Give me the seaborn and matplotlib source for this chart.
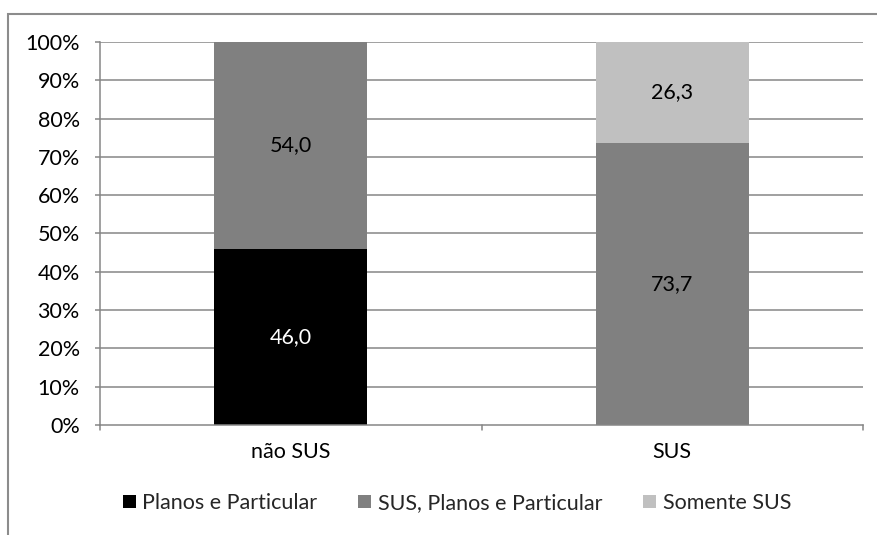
import matplotlib
matplotlib.use("Agg")
import matplotlib.pyplot as plt
from matplotlib.patches import Rectangle, Patch
import seaborn as sns
import numpy as np

categories = ["não SUS", "SUS"]
series_names = ["Planos e Particular", "SUS, Planos e Particular", "Somente SUS"]
planos = [46.0, 0.0]
sus_planos = [54.0, 73.7]
somente_sus = [0.0, 26.3]
colors = ["#000000", "#808080", "#C0C0C0"]
label_colors = ["white", "black", "black"]
yticks = [0, 10, 20, 30, 40, 50, 60, 70, 80, 90, 100]

sns.set_theme(style="white")
plt.rcParams["font.family"] = ["Lato", "DejaVu Sans"]
FS = 15.5

W, H = 877, 535
fig = plt.figure(figsize=(W / 100, H / 100), dpi=100)
ax = fig.add_axes([100 / W, 1 - 425 / H, (863 - 100) / W, (425 - 42) / H])

grid_c = "#868686"
for t in yticks[1:]:
    ax.axhline(t, color=grid_c, lw=1.1, zorder=0)

series = [planos, sus_planos, somente_sus]
bottom = np.zeros(len(categories))
for name, vals, c, lc in zip(series_names, series, colors, label_colors):
    sns.barplot(x=categories, y=vals, bottom=bottom, color=c, width=0.4,
                ax=ax, zorder=2, linewidth=0, saturation=1)
    for i, v in enumerate(vals):
        if v > 0:
            ax.text(i, bottom[i] + v / 2, f"{v:.1f}".replace(".", ","),
                    ha="center", va="center", color=lc, fontsize=FS, zorder=3)
    bottom = bottom + np.array(vals)

ax.set_ylim(0, 100)
ax.set_xlim(-0.5, 1.5)
ax.set_yticks(yticks)
ax.set_yticklabels([f"{t}%" for t in yticks], fontsize=FS, color="black")
ax.set_xticks([0, 1])
ax.set_xticklabels(categories, fontsize=FS, color="black")
ax.tick_params(axis="y", length=3.6, color=grid_c, width=1.1, pad=11, left=True)
ax.tick_params(axis="x", length=0, pad=12)
# category boundary ticks
for xb in [-0.5, 0.5, 1.5]:
    ax.plot([xb, xb], [0, -1.4], color=grid_c, lw=1.1, clip_on=False, zorder=1)

for s in ["top", "right"]:
    ax.spines[s].set_visible(False)
for s in ["left", "bottom"]:
    ax.spines[s].set_color(grid_c)
    ax.spines[s].set_linewidth(1.1)
ax.set_xlabel("")
ax.set_ylabel("")

handles = [Patch(facecolor=c, edgecolor="none") for c in colors]
fig.legend(handles, series_names, loc="center", bbox_to_anchor=(457 / W, 1 - 503 / H),
           ncol=3, frameon=False, fontsize=FS, handlelength=0.6, handleheight=0.6,
           handletextpad=0.3, columnspacing=1.9)

# outer chart border (extends past right/bottom edges)
fig.patches.append(Rectangle((8 / W, -0.1), 1.2, 1 - 14 / H + 0.1,
                             transform=fig.transFigure, fill=False,
                             edgecolor="#8c8c8c", lw=1.5))

fig.savefig("out.png", dpi=100)
